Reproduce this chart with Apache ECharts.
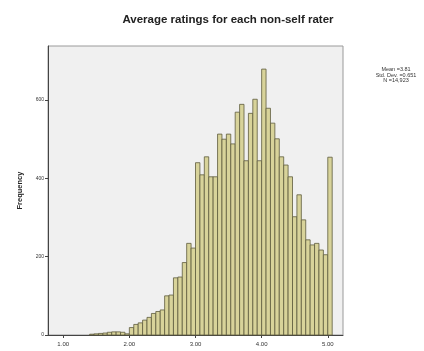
<!DOCTYPE html>
<html>
<head>
<meta charset="utf-8">
<script src="https://cdn.jsdelivr.net/npm/echarts@6/dist/echarts.min.js"></script>
<style>
  html, body { margin: 0; padding: 0; background: #fff; }
  #chart { width: 424px; height: 351px; }
</style>
</head>
<body>
<div id="chart"></div>
<script>
// bins are [k/15, (k+1)/15), first bin starts at 21/15 = 1.40
const binsPerUnit = 15
const firstBin = 21
const counts = [
  2, 3, 4, 5, 7, 8, 8, 7, 3,
  19, 27, 31, 38, 45, 55, 60, 64, 100, 102, 146, 148, 185, 234, 222,
  440, 409, 455, 404, 404, 513, 500, 513, 488, 569, 589, 445, 566, 602, 445,
  679, 579, 541, 501, 455, 434, 404, 302, 358, 294, 243, 230, 234, 217, 205,
  454
]
const xTicks = [1, 2, 3, 4, 5]
const yTicks = [0, 200, 400, 600]
const stats = ['Mean =3.81', 'Std. Dev. =0.651', 'N =14,923']

const font = 'Liberation Sans, Arial, sans-serif'
const bins = counts.map((c, i) => [(firstBin + i) / binsPerUnit, (firstBin + i + 1) / binsPerUnit, c])

const chart = echarts.init(document.getElementById('chart'))
const option = {
  animation: false,
  backgroundColor: '#fff',
  title: [{
    text: 'Average ratings for each non-self rater',
    left: 223, top: 9, textAlign: 'center',
    textStyle: { fontFamily: font, fontSize: 11.5, fontWeight: 'bold', color: '#222' }
  }, {
    text: stats.join('\n'),
    left: 391, top: 62, textAlign: 'center',
    textStyle: { fontFamily: font, fontSize: 5.5, fontWeight: 'normal', color: '#333', lineHeight: 5.5, align: 'center' }
  }],
  grid: {
    left: 48, right: 81, top: 46, bottom: 16,
    outerBoundsMode: 'none',
    show: true, backgroundColor: '#f0f0f0', borderColor: '#9a9a9a', borderWidth: 1
  },
  xAxis: {
    type: 'value', min: 0.77, max: 5.23,
    axisLine: { show: true, onZero: false, lineStyle: { color: '#444', width: 1 } },
    axisTick: { show: true, customValues: xTicks, length: 3, lineStyle: { color: '#444' } },
    axisLabel: {
      customValues: xTicks, margin: 6, fontFamily: font, fontSize: 6, color: '#333',
      formatter: v => v.toFixed(2)
    },
    splitLine: { show: false }
  },
  yAxis: {
    type: 'value', min: 0, max: 738,
    name: 'Frequency', nameLocation: 'middle', nameGap: 24, nameRotate: 90,
    nameTextStyle: { fontFamily: font, fontSize: 7.5, fontWeight: 'bold', color: '#222' },
    axisLine: { show: true, lineStyle: { color: '#444', width: 1 } },
    axisTick: { show: true, customValues: yTicks, length: 3, lineStyle: { color: '#444' } },
    axisLabel: { customValues: yTicks, margin: 4, fontFamily: font, fontSize: 5, color: '#333' },
    splitLine: { show: false }
  },
  series: [{
    type: 'custom',
    data: bins,
    encode: { x: [0, 1], y: 2 },
    renderItem: (params, api) => {
      const p0 = api.coord([api.value(0), api.value(2)])
      const p1 = api.coord([api.value(1), 0])
      return {
        type: 'rect',
        shape: { x: p0[0], y: p0[1], width: p1[0] - p0[0], height: p1[1] - p0[1] },
        style: { fill: '#d8d39a', stroke: '#5e5c3e', lineWidth: 0.8 }
      }
    }
  }]
}
chart.setOption(option)
</script>
</body>
</html>
